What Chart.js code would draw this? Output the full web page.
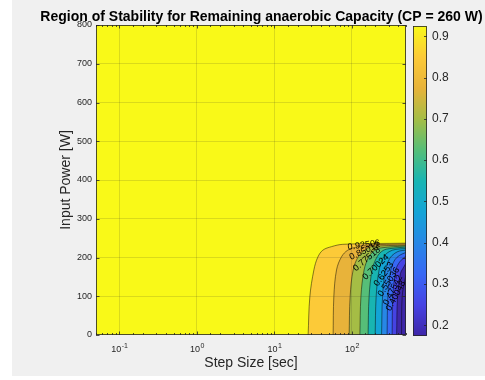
<!DOCTYPE html>
<html>
<head>
<meta charset="utf-8">
<script src="https://cdn.jsdelivr.net/npm/chart.js@4"></script>
<style>
html, body { margin: 0; padding: 0; background: #fff; }
#fig { position: absolute; left: 12px; top: 0; width: 473px; height: 376px; background: #f0f0f0; }
#plot { position: absolute; left: 0; top: 0; }
#cbar { position: absolute; left: 413px; top: 0; }
</style>
</head>
<body>
<div id="fig"></div>
<canvas id="plot" width="485" height="380"></canvas>
<canvas id="cbar" width="72" height="380"></canvas>
<script>
// contour levels of the remaining capacity, highest first
const levels = [0.92506, 0.85012, 0.77518, 0.70024, 0.6253, 0.55036, 0.47542, 0.40048, 0.32554, 0.2506, 0.17566];
const colorLimits = [0.174, 0.925];
const colorbarTicks = [0.2, 0.3, 0.4, 0.5, 0.6, 0.7, 0.8, 0.9];

const stepRange = [0.05, 500];
const powerRange = [0, 800];

// each contour line: step size [sec] and input power [W], one row per level
const contourStep = [
    [27.3, 28.7, 32.4, 36.4, 42.3, 54.7, 76.6, 500],
    [57.4, 58.6, 63.5, 73.7, 88.8, 119, 155, 500],
    [92.3, 95.1, 104, 121, 147, 180, 500],
    [127, 131, 144, 166, 198, 242, 500],
    [162, 167, 183, 212, 253, 309, 500],
    [200, 206, 225, 259, 303, 370, 500],
    [242, 249, 272, 309, 359, 416, 500],
    [285, 292, 318, 359, 416, 500],
    [331, 338, 370, 416, 500],
    [378, 389, 425, 469, 500],
    [438, 446, 483, 500]
];
const contourPower = [
    [0, 98, 168, 201, 219, 228, 234, 237],
    [0, 99, 168, 202, 219, 228, 232, 235],
    [0, 99, 168, 202, 219, 228, 232],
    [0, 99, 168, 202, 219, 225, 230],
    [0, 99, 168, 202, 218, 223, 227],
    [0, 99, 168, 202, 215, 221, 223],
    [0, 99, 168, 198, 211, 217, 219],
    [0, 99, 168, 194, 206, 213],
    [0, 99, 168, 189, 204],
    [0, 99, 159, 176, 186],
    [0, 99, 142, 155]
];

// inline contour labels
const labelText = ['0.92506', '0.85012', '0.77518', '0.70024', '0.6253', '0.55036', '0.47542', '0.40048'];
const labelStep = [143, 147, 156, 204, 259, 300, 338, 370];
const labelPower = [232, 217, 196, 175, 157, 137, 116, 101];
const labelAngle = [-8, -25, -40, -44, -54, -57, -63, -62];

// parula-like colormap, evenly spaced stops
const colormap = ['#3e26a8', '#4642e3', '#3767f5', '#2787e6', '#13a4d6', '#17b5b3',
                  '#55be78', '#a5bd45', '#e8b33a', '#fcca38', '#f9f918'];

const FONT = '"Liberation Sans", Arial, Helvetica, sans-serif';
const AXIS_COLOR = '#262626';
Chart.defaults.font.family = FONT;
Chart.defaults.color = AXIS_COLOR;

function hexToRgb(h) {
    const n = parseInt(h.slice(1), 16);
    return [(n >> 16) & 255, (n >> 8) & 255, n & 255];
}

function parula(v) {
    let t = (v - colorLimits[0]) / (colorLimits[1] - colorLimits[0]);
    t = Math.min(Math.max(t, 0), 1);
    const pos = t * (colormap.length - 1);
    const i = Math.min(Math.floor(pos), colormap.length - 2);
    const f = pos - i;
    const a = hexToRgb(colormap[i]);
    const b = hexToRgb(colormap[i + 1]);
    const c = a.map((ch, k) => Math.round(ch + (b[k] - ch) * f));
    return `rgb(${c[0]}, ${c[1]}, ${c[2]})`;
}

function isDecade(v) {
    const l = Math.log10(v);
    return Math.abs(l - Math.round(l)) < 1e-6;
}

// filled regions: everything is in the top band, then each level's
// "below" region is painted on top of the previous one
const datasets = [{
    data: [{ x: stepRange[0], y: powerRange[1] }, { x: stepRange[1], y: powerRange[1] }],
    fill: 'origin',
    backgroundColor: parula(levels[0]),
    borderWidth: 0,
    pointRadius: 0,
    order: 100
}];
levels.forEach((lv, i) => {
    const lower = i + 1 < levels.length ? levels[i + 1] : colorLimits[0];
    datasets.push({
        data: contourStep[i].map((x, j) => ({ x: x, y: contourPower[i][j] })),
        fill: 'origin',
        backgroundColor: parula(lower),
        borderColor: 'rgba(0, 0, 0, 0.8)',
        borderWidth: 0.6,
        pointRadius: 0,
        tension: 0.35,
        order: 99 - i
    });
});

const plotDecor = {
    id: 'plotDecor',
    afterDatasetsDraw(chart) {
        const { ctx } = chart;
        const xs = chart.scales.x, ys = chart.scales.y;
        ctx.save();
        ctx.fillStyle = '#000';
        ctx.font = '9px ' + FONT;
        ctx.textAlign = 'center';
        ctx.textBaseline = 'middle';
        labelText.forEach((txt, i) => {
            ctx.save();
            ctx.translate(xs.getPixelForValue(labelStep[i]), ys.getPixelForValue(labelPower[i]));
            ctx.rotate(labelAngle[i] * Math.PI / 180);
            ctx.fillText(txt, 0, 0);
            ctx.restore();
        });
        ctx.restore();
    },
    afterDraw(chart) {
        const { ctx, chartArea: a } = chart;
        const xs = chart.scales.x, ys = chart.scales.y;
        ctx.save();
        ctx.strokeStyle = AXIS_COLOR;
        ctx.lineWidth = 0.8;
        ctx.beginPath();
        xs.ticks.forEach(t => {
            const px = Math.round(xs.getPixelForValue(t.value)) + 0.5;
            const len = isDecade(t.value) ? 3.5 : 2;
            ctx.moveTo(px, a.bottom); ctx.lineTo(px, a.bottom - len);
            ctx.moveTo(px, a.top); ctx.lineTo(px, a.top + len);
        });
        ys.ticks.forEach(t => {
            const py = Math.round(ys.getPixelForValue(t.value)) + 0.5;
            ctx.moveTo(a.left, py); ctx.lineTo(a.left + 3.5, py);
            ctx.moveTo(a.right, py); ctx.lineTo(a.right - 3.5, py);
        });
        ctx.stroke();
        ctx.strokeRect(a.left + 0.5, a.top + 0.5, a.right - a.left - 1, a.bottom - a.top - 1);

        // decade labels with raised exponents
        ctx.fillStyle = AXIS_COLOR;
        ctx.textBaseline = 'alphabetic';
        ctx.textAlign = 'left';
        xs.ticks.forEach(t => {
            if (!isDecade(t.value)) return;
            const exp = String(Math.round(Math.log10(t.value)));
            ctx.font = '9px ' + FONT;
            const wBase = ctx.measureText('10').width;
            ctx.font = '7px ' + FONT;
            const wExp = ctx.measureText(exp).width;
            const x0 = xs.getPixelForValue(t.value) - (wBase + wExp) / 2;
            ctx.font = '9px ' + FONT;
            ctx.fillText('10', x0, a.bottom + 17);
            ctx.font = '7px ' + FONT;
            ctx.fillText(exp, x0 + wBase + 0.5, a.bottom + 12.5);
        });

        ctx.fillStyle = '#000';
        ctx.font = 'bold 14px ' + FONT;
        ctx.textAlign = 'center';
        ctx.fillText('Region of Stability for Remaining anaerobic Capacity (CP = 260 W)', 261.5, 21);
        ctx.restore();
    }
};

new Chart(document.getElementById('plot'), {
    type: 'line',
    data: { datasets: datasets },
    options: {
        responsive: false,
        animation: false,
        layout: { padding: { left: 54, top: 25, right: 79, bottom: 4 } },
        plugins: { legend: { display: false }, tooltip: { enabled: false } },
        scales: {
            x: {
                type: 'logarithmic',
                min: stepRange[0],
                max: stepRange[1],
                afterFit: s => { s.height = 41; },
                grid: {
                    z: 1,
                    drawTicks: false,
                    color: c => (c.tick && isDecade(c.tick.value)) ? 'rgba(38, 38, 38, 0.15)' : 'rgba(0, 0, 0, 0)'
                },
                border: { display: false },
                ticks: {
                    autoSkip: false,
                    maxRotation: 0,
                    padding: 9,
                    font: { size: 9 },
                    callback: () => ''
                },
                title: { display: true, text: 'Step Size [sec]', font: { size: 14 }, padding: { top: 4, bottom: 4 } }
            },
            y: {
                min: powerRange[0],
                max: powerRange[1],
                afterFit: s => { s.width = 42; },
                grid: {
                    z: 1,
                    drawTicks: false,
                    color: c => (c.tick && c.tick.value > powerRange[0] && c.tick.value < powerRange[1]) ? 'rgba(38, 38, 38, 0.15)' : 'rgba(0, 0, 0, 0)'
                },
                border: { display: false },
                ticks: { stepSize: 100, padding: 4, font: { size: 9 } },
                title: { display: true, text: 'Input Power [W]', font: { size: 14 }, padding: { top: 4, bottom: 4 } }
            }
        }
    },
    plugins: [plotDecor]
});

const cbarDecor = {
    id: 'cbarDecor',
    afterDraw(chart) {
        const { ctx, chartArea: a } = chart;
        const ys = chart.scales.y;
        ctx.save();
        ctx.strokeStyle = AXIS_COLOR;
        ctx.lineWidth = 0.8;
        ctx.beginPath();
        colorbarTicks.forEach(v => {
            const py = Math.round(ys.getPixelForValue(v)) + 0.5;
            ctx.moveTo(a.right, py); ctx.lineTo(a.right - 3, py);
        });
        ctx.stroke();
        ctx.strokeRect(a.left + 0.5, a.top + 0.5, a.right - a.left - 1, a.bottom - a.top - 1);
        ctx.restore();
    }
};

new Chart(document.getElementById('cbar'), {
    type: 'bar',
    data: {
        labels: [''],
        datasets: [{
            data: [[colorLimits[0], colorLimits[1]]],
            barPercentage: 1,
            categoryPercentage: 1,
            borderWidth: 0,
            backgroundColor: c => {
                const a = c.chart.chartArea;
                if (!a) return colormap[0];
                const g = c.chart.ctx.createLinearGradient(0, a.bottom, 0, a.top);
                colormap.forEach((col, i) => g.addColorStop(i / (colormap.length - 1), col));
                return g;
            }
        }]
    },
    options: {
        responsive: false,
        animation: false,
        layout: { padding: { left: 0, top: 26, right: 0, bottom: 44 } },
        plugins: { legend: { display: false }, tooltip: { enabled: false } },
        scales: {
            x: { display: false },
            y: {
                position: 'right',
                min: colorLimits[0],
                max: colorLimits[1],
                afterFit: s => { s.width = 58; },
                afterBuildTicks: s => { s.ticks = colorbarTicks.map(v => ({ value: v })); },
                grid: { display: false, drawTicks: false },
                border: { display: false },
                ticks: { padding: 5, font: { size: 12 }, callback: v => v.toFixed(1) }
            }
        }
    },
    plugins: [cbarDecor]
});
</script>
</body>
</html>
